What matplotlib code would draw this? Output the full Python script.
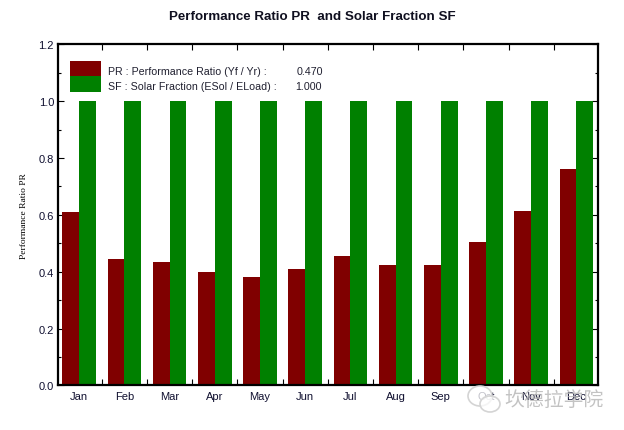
"""
Performance ratio and solar fraction per month
"""
import matplotlib
matplotlib.use('Agg')
import numpy as np
import matplotlib.pyplot as plt
from matplotlib.patches import Ellipse, Rectangle

months = ['Jan', 'Feb', 'Mar', 'Apr', 'May', 'Jun', 'Jul', 'Aug', 'Sep', 'Oct', 'Nov', 'Dec']
pr_values = [0.61, 0.445, 0.435, 0.40, 0.38, 0.41, 0.455, 0.425, 0.425, 0.505, 0.615, 0.76]
sf_values = [1.0, 1.0, 1.0, 1.0, 1.0, 1.0, 1.0, 1.0, 1.0, 1.0, 1.0, 1.0]
y_ticks = [0.0, 0.2, 0.4, 0.6, 0.8, 1.0, 1.2]

W, H = 624, 431
plt.rcParams['font.family'] = ['Liberation Sans', 'DejaVu Sans']

fig = plt.figure(figsize=(W/100, H/100), dpi=100)
ax = fig.add_axes([57.5/W, 1-386.4/H, 540.5/W, 341/H])

x = np.arange(len(months))
bw = 0.37
ax.bar(x-bw/2, pr_values, bw, color='#800000', zorder=2)
ax.bar(x+bw/2, sf_values, bw, color='#008000', zorder=2)

ax.set_xlim(-0.48, 11.478)
ax.set_ylim(0, 1.2)

# Month labels sit between the ticks
ax.set_xticks(np.arange(0.5, 11.5, 1))
ax.set_xticklabels([])
ax.tick_params(axis='x', which='major', direction='in', top=True, bottom=True, length=4.5, width=0.8)
for i, m in enumerate(months):
    ax.text(i, -0.037, m, ha='center', va='center', fontsize=8, color='#101030')

ax.set_yticks(y_ticks)
ax.set_yticks(np.arange(0.1, 1.2, 0.2), minor=True)
ax.tick_params(axis='y', which='major', direction='in', left=True, right=True, length=4.5, width=0.8,
               labelsize=8, pad=2.5, labelcolor='#101030')
ax.tick_params(axis='y', which='minor', direction='in', left=True, right=True, length=2.5, width=0.8)
ax.set_yticklabels(['%.1f' % t for t in y_ticks])

for s in ax.spines.values():
    s.set_linewidth(1.6)
    s.set_zorder(5)

ax.set_ylabel('Performance Ratio PR', fontsize=6.8, family=['Liberation Serif'])
ax.yaxis.set_label_coords(-30/540.5, 0.5)

fig.text(312/W, 1-17/H, 'Performance Ratio PR  and Solar Fraction SF', ha='center', va='center',
         fontsize=9.6, fontweight='bold', color='#101020')

# Legend block
fig.add_artist(Rectangle((70/W, 1-77/H), 31/W, 15/H, transform=fig.transFigure, color='#800000', lw=0))
fig.add_artist(Rectangle((70/W, 1-93/H), 31/W, 16/H, transform=fig.transFigure, color='#008000', lw=0))
fig.text(108/W, 1-72/H, 'PR : Performance Ratio (Yf / Yr) :', va='center', fontsize=7.7, color='#202030')
fig.text(108/W, 1-86.5/H, 'SF : Solar Fraction (ESol / ELoad) :', va='center', fontsize=7.7, color='#202030')
fig.text(323/W, 1-72/H, '0.470', va='center', ha='right', fontsize=7.7, color='#202030')
fig.text(322/W, 1-86.5/H, '1.000', va='center', ha='right', fontsize=7.7, color='#202030')

# Watermark
wm = '#b4b4b4'
for cx, cy, ew, eh in [(480, 397, 24, 20), (490, 405, 20, 16)]:
    fig.add_artist(Ellipse((cx/W, 1-cy/H), ew/W, eh/H, transform=fig.transFigure,
                           fc=(1, 1, 1, 0.75), ec='#d4d4d4', lw=1.2, zorder=10))
fig.text(554/W, 1-400/H, '坎德拉学院', ha='center', va='center', fontsize=14.3, color=wm, alpha=0.8,
         family=['Noto Sans CJK SC', 'DejaVu Sans'], zorder=10)

fig.savefig('out.png', dpi=100, facecolor='white')
